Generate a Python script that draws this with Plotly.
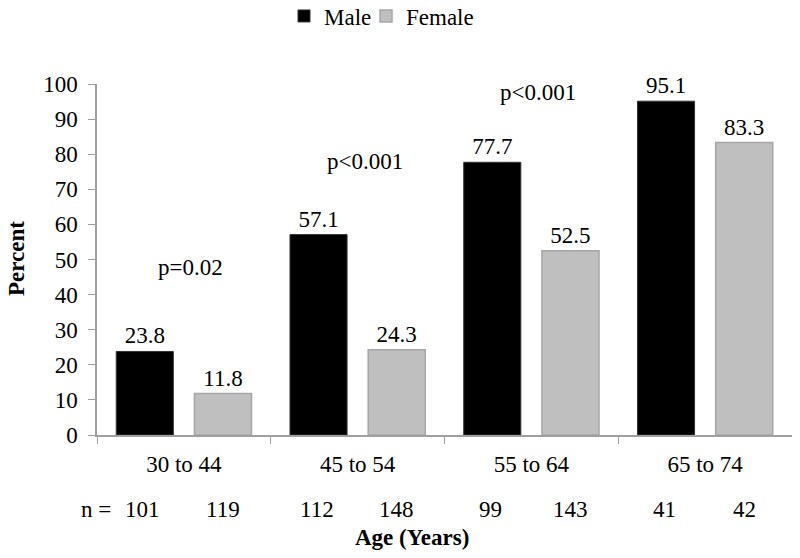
import plotly.graph_objects as go

categories = ["30 to 44", "45 to 54", "55 to 64", "65 to 74"]
male = [23.8, 57.1, 77.7, 95.1]
female = [11.8, 24.3, 52.5, 83.3]
n_male = [101, 112, 99, 41]
n_female = [119, 148, 143, 42]
p_labels = ["p=0.02", "p<0.001", "p<0.001", "p=0.08"]
p_y = [47.6, 77.8, 97.7, 107.7]
y_ticks = list(range(0, 101, 10))

FONT = "Liberation Serif"
FS = 23

# page has an 8px body margin; work in page pixels and convert
OFF = 8
W, H = 800 - OFF, 558 - OFF
L, T = 97 - OFF, 84 - OFF
R = W - (792 - OFF)
B = H - (435 - OFF)
pw, ph = W - L - R, H - T - B


def px_x(x):
    return (x - OFF - L) / pw


def px_y(y):
    return (H - B - (y - OFF)) / ph


fig = go.Figure()
fig.add_trace(go.Bar(
    name="Male", x=categories, y=male, legend="legend",
    marker=dict(color="#000000", line=dict(color="#333333", width=1)),
    text=[f"{v:.1f}" for v in male], textposition="outside",
    textfont=dict(family=FONT, size=FS, color="black"), cliponaxis=False,
))
fig.add_trace(go.Bar(
    name="Female", x=categories, y=female, legend="legend2",
    marker=dict(color="#bfbfbf", line=dict(color="#a6a6a6", width=1.5)),
    text=[f"{v:.1f}" for v in female], textposition="outside",
    textfont=dict(family=FONT, size=FS, color="black"), cliponaxis=False,
))

tf = dict(family=FONT, size=FS, color="black")
annotations = []
for c, p, py in zip(categories, p_labels, p_y):
    annotations.append(dict(x=c, y=py, xref="x", yref="y", text=p, showarrow=False,
                            xshift=7, yanchor="middle", font=tf))
for c, nm, nf in zip(categories, n_male, n_female):
    annotations.append(dict(x=c, y=px_y(510), xref="x", yref="paper", yanchor="middle",
                            text=str(nm), showarrow=False, xshift=-41, font=tf))
    annotations.append(dict(x=c, y=px_y(510), xref="x", yref="paper", yanchor="middle",
                            text=str(nf), showarrow=False, xshift=39, font=tf))
annotations.append(dict(x=px_x(96), y=px_y(510), xref="paper", yref="paper", text="n =",
                        showarrow=False, xanchor="center", yanchor="middle", font=tf))
annotations.append(dict(x=px_x(412), y=px_y(537), xref="paper", yref="paper",
                        text="<b>Age (Years)</b>", showarrow=False, xanchor="center",
                        yanchor="middle", font=tf))
annotations.append(dict(x=px_x(16), y=px_y(259), xref="paper", yref="paper",
                        text="<b>Percent</b>", showarrow=False, textangle=-90,
                        xanchor="center", yanchor="middle", font=tf))


def legend_at(text_left_px):
    return dict(orientation="h", x=(text_left_px - 39 - OFF) / W, xanchor="left",
                xref="container", y=1 - (16 - OFF) / H, yanchor="middle", yref="container",
                font=tf, itemwidth=30, bgcolor="rgba(0,0,0,0)")


fig.update_layout(
    width=W, height=H,
    margin=dict(l=L, r=R, t=T, b=B, autoexpand=False),
    paper_bgcolor="white", plot_bgcolor="white",
    barmode="group", bargap=0.1, bargroupgap=0.27,
    font=tf,
    showlegend=True,
    legend=legend_at(323),
    legend2=legend_at(405),
    annotations=annotations,
    xaxis=dict(showline=True, linecolor="#a0a0a0", linewidth=1.5, ticks="outside",
               tickson="boundaries", ticklen=7, tickcolor="#a0a0a0",
               tickfont=tf, showgrid=False, automargin=False,
               ticklabelstandoff=8),
    yaxis=dict(range=[0, 100], tickvals=y_ticks, showline=True, linecolor="#a0a0a0",
               linewidth=1.5, ticks="outside", ticklen=7, tickcolor="#a0a0a0",
               tickfont=tf, showgrid=False, zeroline=False, automargin=False,
               ticklabelstandoff=6),
)

fig.write_html("out.html")
